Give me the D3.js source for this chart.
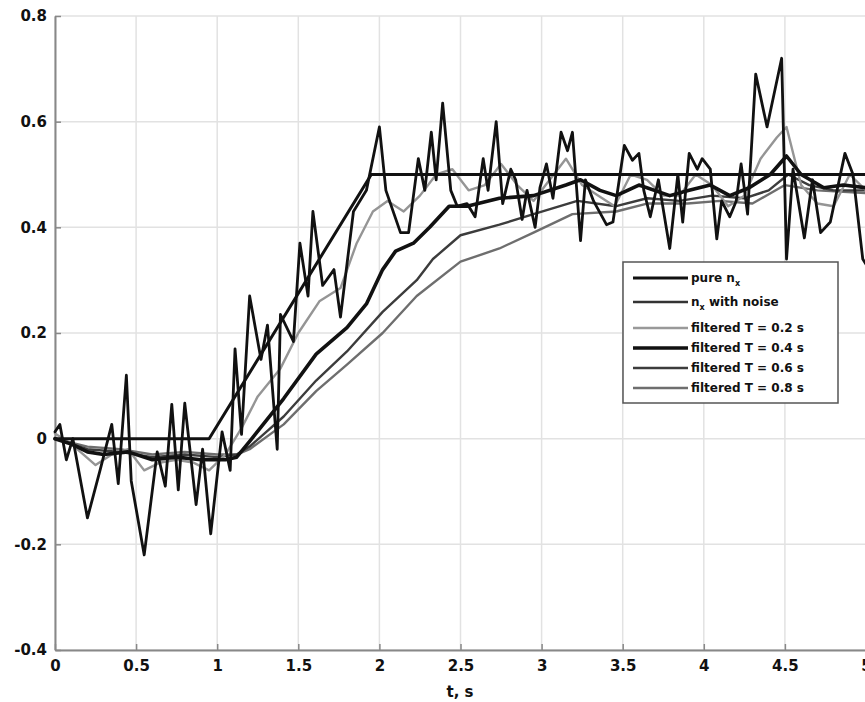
<!DOCTYPE html>
<html>
<head>
<meta charset="utf-8">
<script src="https://cdn.jsdelivr.net/npm/d3@7"></script>
<style>
  html, body { margin: 0; padding: 0; background: #fff; }
  svg { display: block; }
  text { font-family: "DejaVu Sans", sans-serif; font-weight: bold; fill: #111; }
</style>
</head>
<body>
<svg id="chart" width="865" height="702"></svg>
<script>
// ---------- data ----------
const xTicks = [0, 0.5, 1, 1.5, 2, 2.5, 3, 3.5, 4, 4.5, 5];
const xTickLabels = ["0", "0.5", "1", "1.5", "2", "2.5", "3", "3.5", "4", "4.5", "5"];
const yTicks = [-0.4, -0.2, 0, 0.2, 0.4, 0.6, 0.8];
const yTickLabels = ["-0.4", "-0.2", "0", "0.2", "0.4", "0.6", "0.8"];
const xLabel = "t, s";

const pureT = [0, 0.95, 1.95, 5];
const pureV = [0, 0, 0.5, 0.5];

const noisyT = [0, 0.03, 0.07, 0.11, 0.2, 0.28, 0.35, 0.39, 0.44, 0.47, 0.55, 0.63, 0.68, 0.72, 0.76, 0.8, 0.87, 0.91, 0.96,
  1.03, 1.08, 1.11, 1.15, 1.2, 1.27, 1.31, 1.37, 1.39, 1.47, 1.51, 1.56, 1.59, 1.65, 1.72, 1.76, 1.84, 1.92,
  2.0, 2.04, 2.13, 2.18, 2.24, 2.28, 2.32, 2.35, 2.39, 2.44, 2.48, 2.54, 2.59, 2.64, 2.67, 2.72, 2.76, 2.81, 2.84, 2.88, 2.91, 2.96, 2.99,
  3.03, 3.07, 3.12, 3.16, 3.19, 3.24, 3.27, 3.32, 3.4, 3.44, 3.51, 3.56, 3.6, 3.63, 3.67, 3.72, 3.79, 3.84, 3.87, 3.91, 3.96, 3.99,
  4.04, 4.08, 4.11, 4.16, 4.2, 4.23, 4.27, 4.32, 4.39, 4.48, 4.51, 4.55, 4.62, 4.67, 4.72, 4.78, 4.87, 4.92, 4.98, 5.0];
const noisyV = [0.013, 0.027, -0.04, 0.0, -0.15, -0.057, 0.027, -0.085, 0.12, -0.08, -0.22, -0.025, -0.09, 0.065, -0.097, 0.067, -0.125, -0.02, -0.18,
  0.013, -0.06, 0.17, 0.008, 0.27, 0.15, 0.215, -0.02, 0.235, 0.184, 0.37, 0.27, 0.43, 0.29, 0.32, 0.23, 0.43, 0.47,
  0.59, 0.47, 0.39, 0.39, 0.53, 0.47, 0.58, 0.49, 0.635, 0.47, 0.44, 0.445, 0.42, 0.53, 0.47, 0.60, 0.445, 0.51, 0.49, 0.415, 0.47, 0.40, 0.475,
  0.52, 0.455, 0.58, 0.545, 0.58, 0.375, 0.49, 0.45, 0.405, 0.41, 0.555, 0.527, 0.54, 0.47, 0.42, 0.49, 0.36, 0.50, 0.41, 0.54, 0.51, 0.53,
  0.51, 0.378, 0.45, 0.42, 0.45, 0.52, 0.425, 0.69, 0.59, 0.72, 0.34, 0.51, 0.38, 0.49, 0.39, 0.41, 0.54, 0.50, 0.34, 0.33];

const f02T = [0, 0.1, 0.25, 0.35, 0.45, 0.55, 0.65, 0.75, 0.85, 0.95, 1.05, 1.15, 1.25, 1.39, 1.5, 1.63, 1.76, 1.86, 1.96, 2.05, 2.15, 2.25, 2.35, 2.45,
  2.55, 2.65, 2.75, 2.85, 2.95, 3.05, 3.15, 3.25, 3.35, 3.45, 3.55, 3.65, 3.75, 3.85, 3.95, 4.05, 4.15, 4.25, 4.35, 4.45, 4.51, 4.6, 4.7, 4.8, 4.9, 5.0];
const f02V = [0.01, -0.01, -0.05, -0.03, -0.02, -0.06, -0.045, -0.04, -0.045, -0.06, -0.03, 0.02, 0.08, 0.133, 0.2, 0.26, 0.285, 0.37, 0.43, 0.45, 0.43, 0.46, 0.5, 0.51,
  0.47, 0.48, 0.52, 0.48, 0.45, 0.49, 0.53, 0.48, 0.46, 0.44, 0.5, 0.49, 0.46, 0.46, 0.5, 0.48, 0.44, 0.46, 0.53, 0.57, 0.59, 0.48, 0.445, 0.44, 0.5, 0.47];

const f04T = [0, 0.1, 0.2, 0.3, 0.45, 0.6, 0.75, 0.9, 1.05, 1.12, 1.2, 1.41, 1.61, 1.8, 1.92, 2.02, 2.1, 2.21, 2.31, 2.43, 2.54, 2.74, 2.95, 3.15, 3.24,
  3.36, 3.46, 3.6, 3.79, 3.91, 4.04, 4.16, 4.28, 4.41, 4.51, 4.6, 4.74, 4.86, 5.0];
const f04V = [0.0, -0.01, -0.025, -0.03, -0.025, -0.04, -0.035, -0.04, -0.04, -0.035, -0.005, 0.076, 0.16, 0.21, 0.255, 0.32, 0.355, 0.37, 0.40, 0.44, 0.44, 0.455, 0.46, 0.48, 0.49,
  0.47, 0.46, 0.48, 0.46, 0.47, 0.48, 0.46, 0.475, 0.50, 0.535, 0.50, 0.475, 0.48, 0.475];

const f06T = [0, 0.2, 0.4, 0.6, 0.8, 1.0, 1.12, 1.2, 1.41, 1.61, 1.8, 2.02, 2.23, 2.33, 2.5, 2.74, 2.95, 3.22, 3.46, 3.65, 3.85, 4.05, 4.25, 4.4, 4.52, 4.65, 4.8, 5.0];
const f06V = [0.0, -0.02, -0.025, -0.035, -0.03, -0.035, -0.03, -0.015, 0.042, 0.11, 0.165, 0.24, 0.30, 0.34, 0.385, 0.405, 0.425, 0.45, 0.44, 0.455, 0.45, 0.46, 0.455, 0.47, 0.5, 0.48, 0.47, 0.47];

const f08T = [0, 0.2, 0.4, 0.6, 0.8, 1.0, 1.12, 1.2, 1.41, 1.61, 1.8, 2.02, 2.23, 2.5, 2.74, 2.95, 3.19, 3.46, 3.65, 3.9, 4.1, 4.3, 4.5, 4.7, 5.0];
const f08V = [0.0, -0.015, -0.02, -0.03, -0.025, -0.03, -0.03, -0.02, 0.027, 0.09, 0.14, 0.2, 0.27, 0.335, 0.36, 0.39, 0.425, 0.43, 0.445, 0.445, 0.45, 0.445, 0.48, 0.47, 0.465];

const legendLabels = ["pure n", "n", "filtered T = 0.2 s", "filtered T = 0.4 s", "filtered T = 0.6 s", "filtered T = 0.8 s"];

// ---------- drawing ----------
const svg = d3.select("#chart");
const x = d3.scaleLinear().domain([0, 5]).range([55, 866]);
const y = d3.scaleLinear().domain([-0.4, 0.8]).range([650, 16]);

// grid
svg.append("g").selectAll("line").data(xTicks).join("line")
  .attr("x1", d => x(d)).attr("x2", d => x(d)).attr("y1", y(0.8)).attr("y2", y(-0.4))
  .attr("stroke", "#e2e2e2").attr("stroke-width", 1.5);
svg.append("g").selectAll("line").data(yTicks).join("line")
  .attr("x1", x(0)).attr("x2", x(5)).attr("y1", d => y(d)).attr("y2", d => y(d))
  .attr("stroke", "#e2e2e2").attr("stroke-width", 1.5);

// axes
const xAxis = d3.axisBottom(x).tickValues(xTicks).tickFormat((d, i) => xTickLabels[i]).tickSizeInner(-6).tickSizeOuter(0).tickPadding(10);
const gx = svg.append("g").attr("transform", `translate(0,${y(-0.4)})`).call(xAxis);
const yAxis = d3.axisLeft(y).tickValues(yTicks).tickFormat((d, i) => yTickLabels[i]).tickSizeInner(-6).tickSizeOuter(0).tickPadding(8);
const gy = svg.append("g").attr("transform", `translate(${x(0)},0)`).call(yAxis);
[gx, gy].forEach(g => {
  g.select(".domain").attr("stroke", "#888").attr("stroke-width", 2);
  g.selectAll(".tick line").attr("stroke", "#888").attr("stroke-width", 1.5);
  g.selectAll(".tick text").attr("font-family", "DejaVu Sans").attr("font-weight", "bold").attr("font-size", 15).attr("fill", "#111");
});
gy.selectAll(".tick text").attr("x", -8);

svg.append("text").attr("x", 460).attr("y", 697).attr("text-anchor", "middle").attr("font-size", 15).text(xLabel);

// series
const series = [
  { t: f08T, v: f08V, color: "#6e6e6e", w: 2.4 },
  { t: f06T, v: f06V, color: "#3c3c3c", w: 2.4 },
  { t: f02T, v: f02V, color: "#959595", w: 2.4 },
  { t: f04T, v: f04V, color: "#111", w: 3.6 },
  { t: pureT, v: pureV, color: "#111", w: 3 },
  { t: noisyT, v: noisyV, color: "#111", w: 2.8 }
];
const line = d3.line().x(d => x(d[0])).y(d => y(d[1]));
const plot = svg.append("g");
series.forEach(s => {
  plot.append("path").datum(s.t.map((t, i) => [t, s.v[i]]))
    .attr("d", line).attr("fill", "none").attr("stroke", s.color)
    .attr("stroke-width", s.w).attr("stroke-linejoin", "round").attr("stroke-linecap", "round");
});

// legend
const legendStyles = [
  { color: "#111", w: 2.8 },
  { color: "#333", w: 2.4 },
  { color: "#999", w: 2.4 },
  { color: "#111", w: 3.6 },
  { color: "#3c3c3c", w: 2.4 },
  { color: "#6e6e6e", w: 2.4 }
];
const legendY = [278, 302, 328, 348, 368, 388];
const lg = svg.append("g");
lg.append("rect").attr("x", 623).attr("y", 262).attr("width", 215).attr("height", 141)
  .attr("fill", "#fff").attr("stroke", "#555").attr("stroke-width", 1.5);
legendLabels.forEach((lab, i) => {
  lg.append("line").attr("x1", 633).attr("x2", 688).attr("y1", legendY[i]).attr("y2", legendY[i])
    .attr("stroke", legendStyles[i].color).attr("stroke-width", legendStyles[i].w);
  const t = lg.append("text").attr("x", 691).attr("y", legendY[i] + 4).attr("font-size", 12);
  if (i === 0) {
    t.append("tspan").text("pure n");
    t.append("tspan").attr("dy", 4).attr("font-size", 8).text("x");
  } else if (i === 1) {
    t.append("tspan").text("n");
    t.append("tspan").attr("dy", 4).attr("font-size", 8).text("x");
    t.append("tspan").attr("dy", -4).text(" with noise");
  } else {
    t.text(lab);
  }
});
</script>
</body>
</html>
